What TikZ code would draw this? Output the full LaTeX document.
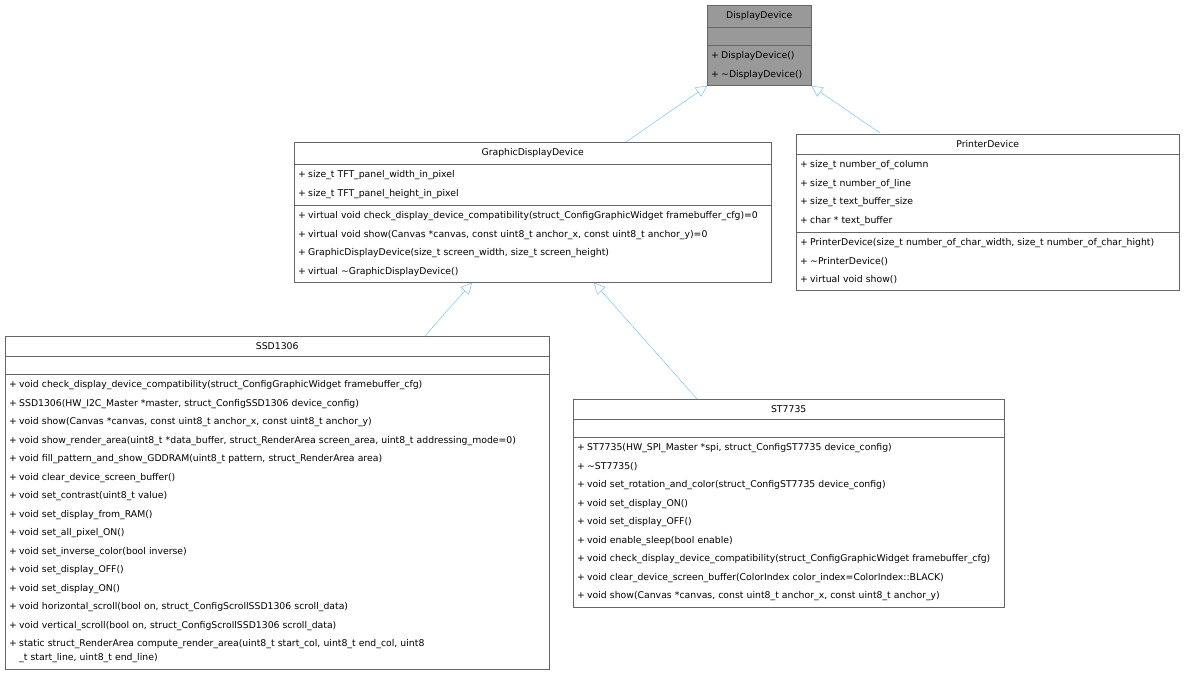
\documentclass[tikz,border=0pt]{standalone}
\usepackage{fontspec}
\setmainfont{DejaVu Sans}
\usetikzlibrary{
  arrows.meta, % for inheritance arrows
  shapes.multipart, % for class boxes
}
\definecolor{uml-line}{RGB}{102, 102, 102}
\definecolor{uml-base}{RGB}{153, 153, 153}
\definecolor{uml-arrow}{RGB}{99, 184, 255}
\newcommand{\pub}[1]{\makebox[10pt][l]{+}#1}
\newcommand{\ctitle}[1]{\makebox[\linewidth][c]{#1}}
\newcommand{\noattr}{\rule{0pt}{5pt}}

\begin{document}
\begin{tikzpicture}[x=1pt, y=1pt,
    font=\fontsize{9.3}{18.5}\selectfont,
    umlclass/.style={rectangle split, rectangle split parts=3, draw=uml-line,
      fill=white, anchor=north west, align=left, inner xsep=4pt, inner ysep=6.3pt},
    umlbase/.style={umlclass, fill=uml-base},
    inherit/.style={draw=uml-arrow, -{Triangle[open, length=11pt, width=11pt, fill=white]}},
  ]
  \useasboundingbox (0,0) rectangle (1185,-679);

  % base class
  \node[umlbase, text width=96pt] (display) at (707,-5)
  {\ctitle{DisplayDevice}
   \nodepart{two}\noattr
   \nodepart{three}\pub{DisplayDevice()}\\
   \pub{\textasciitilde DisplayDevice()}};

  \node[umlclass, text width=469pt] (graphic) at (294,-142)
  {\ctitle{GraphicDisplayDevice}
   \nodepart{two}\pub{size\_t TFT\_panel\_width\_in\_pixel}\\
   \pub{size\_t TFT\_panel\_height\_in\_pixel}
   \nodepart{three}\pub{virtual void check\_display\_device\_compatibility(struct\_ConfigGraphicWidget framebuffer\_cfg)=0}\\
   \pub{virtual void show(Canvas *canvas, const uint8\_t anchor\_x, const uint8\_t anchor\_y)=0}\\
   \pub{GraphicDisplayDevice(size\_t screen\_width, size\_t screen\_height)}\\
   \pub{virtual \textasciitilde GraphicDisplayDevice()}};

  \node[umlclass, text width=375pt] (printer) at (796,-134)
  {\ctitle{PrinterDevice}
   \nodepart{two}\pub{size\_t number\_of\_column}\\
   \pub{size\_t number\_of\_line}\\
   \pub{size\_t text\_buffer\_size}\\
   \pub{char * text\_buffer}
   \nodepart{three}\pub{PrinterDevice(size\_t number\_of\_char\_width, size\_t number\_of\_char\_hight)}\\
   \pub{\textasciitilde PrinterDevice()}\\
   \pub{virtual void show()}};

  \node[umlclass, text width=536pt] (ssd) at (5,-336)
  {\ctitle{SSD1306}
   \nodepart{two}\noattr
   \nodepart{three}\pub{void check\_display\_device\_compatibility(struct\_ConfigGraphicWidget framebuffer\_cfg)}\\
   \pub{SSD1306(HW\_I2C\_Master *master, struct\_ConfigSSD1306 device\_config)}\\
   \pub{void show(Canvas *canvas, const uint8\_t anchor\_x, const uint8\_t anchor\_y)}\\
   \pub{void show\_render\_area(uint8\_t *data\_buffer, struct\_RenderArea screen\_area, uint8\_t addressing\_mode=0)}\\
   \pub{void fill\_pattern\_and\_show\_GDDRAM(uint8\_t pattern, struct\_RenderArea area)}\\
   \pub{void clear\_device\_screen\_buffer()}\\
   \pub{void set\_contrast(uint8\_t value)}\\
   \pub{void set\_display\_from\_RAM()}\\
   \pub{void set\_all\_pixel\_ON()}\\
   \pub{void set\_inverse\_color(bool inverse)}\\
   \pub{void set\_display\_OFF()}\\
   \pub{void set\_display\_ON()}\\
   \pub{void horizontal\_scroll(bool on, struct\_ConfigScrollSSD1306 scroll\_data)}\\
   \pub{void vertical\_scroll(bool on, struct\_ConfigScrollSSD1306 scroll\_data)}\\
   \pub{static struct\_RenderArea compute\_render\_area(uint8\_t start\_col, uint8\_t end\_col, uint8}\\[-4.5pt]
   \hspace*{10pt}\_t start\_line, uint8\_t end\_line)};

  \node[umlclass, text width=423pt] (st) at (573,-399)
  {\ctitle{ST7735}
   \nodepart{two}\noattr
   \nodepart{three}\pub{ST7735(HW\_SPI\_Master *spi, struct\_ConfigST7735 device\_config)}\\
   \pub{\textasciitilde ST7735()}\\
   \pub{void set\_rotation\_and\_color(struct\_ConfigST7735 device\_config)}\\
   \pub{void set\_display\_ON()}\\
   \pub{void set\_display\_OFF()}\\
   \pub{void enable\_sleep(bool enable)}\\
   \pub{void check\_display\_device\_compatibility(struct\_ConfigGraphicWidget framebuffer\_cfg)}\\
   \pub{void clear\_device\_screen\_buffer(ColorIndex color\_index=ColorIndex::BLACK)}\\
   \pub{void show(Canvas *canvas, const uint8\_t anchor\_x, const uint8\_t anchor\_y)}};

  % inheritance
  \draw[inherit] (graphic.north west) ++(332,0) -- (display.south west);
  \draw[inherit] (printer.north west) ++(84,1) -- (display.south east);
  \draw[inherit] (ssd.north west) ++(420,0) -- ([xshift=178pt]graphic.south west);
  \draw[inherit] (st.north west) ++(124,0) -- ([xshift=300pt]graphic.south west);
\end{tikzpicture}
\end{document}
